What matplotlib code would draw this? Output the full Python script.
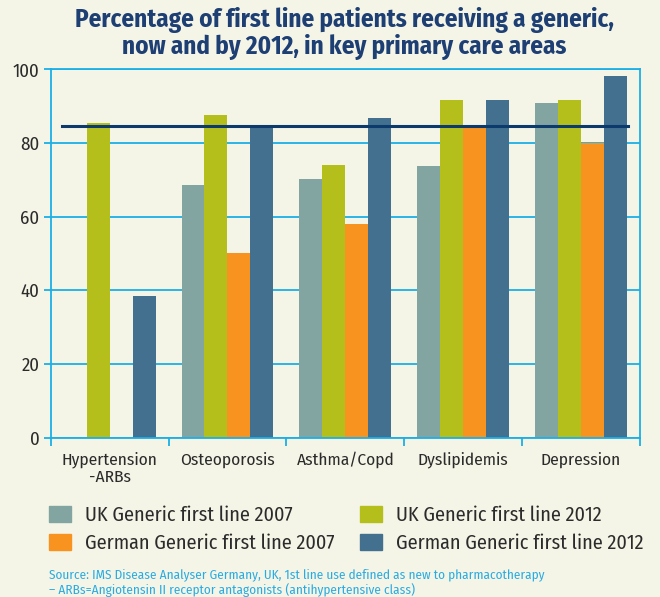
import numpy as np
from matplotlib import pyplot as plt
from matplotlib.patches import Patch

plt.rcParams['font.family'] = ['Fira Sans Condensed', 'Roboto Condensed', 'PT Sans Narrow', 'DejaVu Sans']

categories = ['Hypertension\n-ARBs', 'Osteoporosis', 'Asthma/Copd', 'Dyslipidemis', 'Depression']
uk_2007 = [np.nan, 68.7, 70.3, 73.8, 91.0]
uk_2012 = [85.5, 87.7, 74.1, 91.7, 91.7]
de_2007 = [np.nan, 50.2, 58.0, 84.5, 80.1]
de_2012 = [38.5, 84.5, 86.9, 91.7, 98.3]
target = 84.7

series = [
    ('UK Generic first line 2007', uk_2007, '#82a5a2'),
    ('UK Generic first line 2012', uk_2012, '#b5bf1b'),
    ('German Generic first line 2007', de_2007, '#f7931e'),
    ('German Generic first line 2012', de_2012, '#42708e'),
]

bg = '#f5f5e7'
blue_line = '#1ab0e8'

fig = plt.figure(figsize=(6.6, 5.97), dpi=100, facecolor=bg)
ax = fig.add_axes([0.0768, 0.2668, 0.8929, 0.6168])
ax.set_facecolor(bg)

x = np.arange(len(categories))
w = 0.195
for i, (name, vals, col) in enumerate(series):
    ax.bar(x + (i - 1.5) * w, vals, w, color=col, zorder=2, label=name)

ax.plot([-0.407, 4.40], [target, target], color='#0c3a6c', lw=2.2, zorder=3)

ax.set_xlim(-0.5, 4.5)
ax.set_ylim(0, 100)
ax.set_yticks([0, 20, 40, 60, 80, 100])
ax.yaxis.grid(True, color=blue_line, lw=1.3, zorder=0)
ax.set_axisbelow(True)
for s in ax.spines.values():
    s.set_color(blue_line)
    s.set_linewidth(1.3)

ax.set_xticks(np.arange(-0.5, 5, 1))
ax.set_xticklabels([])
ax.set_xticks(x, minor=True)
ax.set_xticklabels(categories, minor=True, fontsize=12.5, color='#2b2b2b', linespacing=1.1)
ax.tick_params(axis='x', which='minor', length=0, pad=10)
ax.tick_params(axis='x', which='major', length=6, width=1.3, color=blue_line)
ax.tick_params(axis='y', length=5, width=1.3, color=blue_line, labelsize=13.5,
               labelcolor='#2b2b2b', pad=3)

fig.text(0.522, 0.988, 'Percentage of first line patients receiving a generic,\n'
         'now and by 2012, in key primary care areas',
         ha='center', va='top', fontsize=18, fontweight='bold',
         color='#1d3f73', linespacing=1.05)

handles = [Patch(color=c) for _, _, c in series]
labels = [n for n, _, _ in series]
order = [0, 2, 1, 3]
fig.legend([handles[i] for i in order], [labels[i] for i in order], ncol=2,
           loc='upper left', bbox_to_anchor=(0.074, 0.154), frameon=False,
           fontsize=14.5, handlelength=1.1, handleheight=0.85, handletextpad=0.7,
           columnspacing=1.25, labelspacing=0.45, borderpad=0, borderaxespad=0,
           labelcolor='#2b2b2b')

fig.text(0.074, 0.024, 'Source: IMS Disease Analyser Germany, UK, 1st line use defined as new to pharmacotherapy\n'
         '\u2013 ARBs=Angiotensin II receptor antagonists (antihypertensive class)',
         ha='left', va='center', fontsize=9.5, color='#29abe2', linespacing=1.25)

plt.savefig('out.png', dpi=100, facecolor=bg)
